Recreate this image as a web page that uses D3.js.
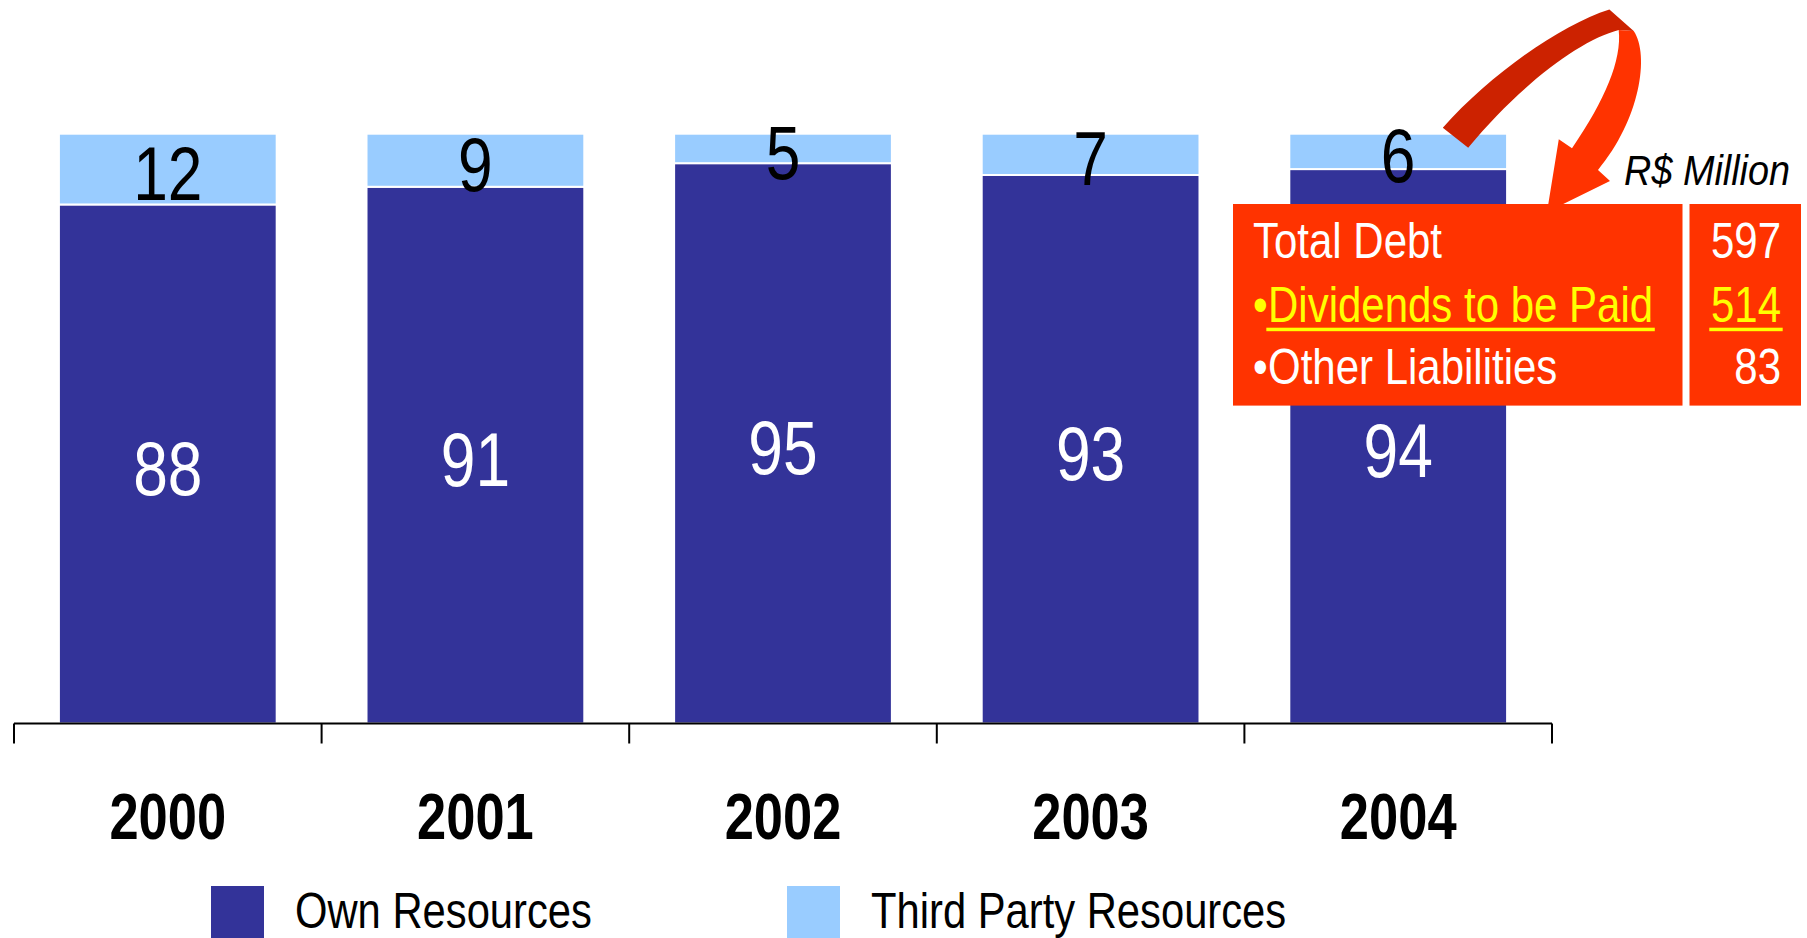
<!DOCTYPE html>
<html>
<head>
<meta charset="utf-8">
<script src="https://cdn.jsdelivr.net/npm/d3@7"></script>
<style>
  html, body { margin: 0; padding: 0; background: #fff; }
  svg { display: block; }
  text { font-family: "Liberation Sans", Arial, sans-serif; }
</style>
</head>
<body>
<div id="chart"></div>
<script>
const years = ["2000", "2001", "2002", "2003", "2004"];
const ownResources = [88, 91, 95, 93, 94];
const thirdParty = [12, 9, 5, 7, 6];
const seriesNames = ["Own Resources", "Third Party Resources"];
const debtLabels = ["Total Debt", "Dividends to be Paid", "Other Liabilities"];
const debtValues = [597, 514, 83];
const unitLabel = "R$ Million";

const width = 1807;
const height = 938;
const darkBlue = "#333399";
const lightBlue = "#99ccff";
const boxRed = "#ff3300";
const arrowDark = "#cc2200";
const narrow = 0.82; // squeeze Liberation Sans into a condensed face

const svg = d3.select("#chart")
    .append("svg")
    .attr("width", width)
    .attr("height", height);

const place = (px, py, sx = narrow) => `translate(${px},${py}) scale(${sx},1)`;

const rows = years.map((y, i) => ({ year: y, own: ownResources[i], third: thirdParty[i] }));
const stacked = d3.stack().keys(["own", "third"])(rows);

const x = d3.scaleBand()
    .domain(years)
    .range([14, 1552])
    .paddingInner(0.292)
    .paddingOuter(0.146);

const y = d3.scaleLinear()
    .domain([0, 100])
    .range([723.5, 133.7]);

const colors = { own: darkBlue, third: lightBlue };

// bars
svg.selectAll(".layer")
    .data(stacked)
    .enter()
    .append("g")
    .attr("fill", d => colors[d.key])
    .selectAll("rect")
    .data(d => d)
    .enter()
    .append("rect")
    .attr("x", d => x(d.data.year))
    .attr("y", d => y(d[1]))
    .attr("width", x.bandwidth())
    .attr("height", d => y(d[0]) - y(d[1]))
    .attr("stroke", "#fff")
    .attr("stroke-width", 2);

// value labels
const labelColor = ["#fff", "#000"];
stacked.forEach((layer, li) => {
    svg.selectAll(".val-" + li)
        .data(layer)
        .enter()
        .append("text")
        .attr("transform", d => place(x(d.data.year) + x.bandwidth() / 2, (y(d[0]) + y(d[1])) / 2 + 31))
        .attr("text-anchor", "middle")
        .attr("font-size", "76px")
        .attr("fill", labelColor[li])
        .text(d => d.data[layer.key]);
});

// axis: baseline with ticks between categories
const axisY = y(0);
const r = x.range();
svg.append("line")
    .attr("x1", r[0]).attr("x2", r[1])
    .attr("y1", axisY).attr("y2", axisY)
    .attr("stroke", "#000")
    .attr("stroke-width", 2);

svg.selectAll(".tick")
    .data(d3.range(years.length + 1))
    .enter()
    .append("line")
    .attr("x1", i => r[0] + i * x.step())
    .attr("x2", i => r[0] + i * x.step())
    .attr("y1", axisY)
    .attr("y2", axisY + 20)
    .attr("stroke", "#000")
    .attr("stroke-width", 2);

svg.selectAll(".year-label")
    .data(years)
    .enter()
    .append("text")
    .attr("transform", d => place(x(d) + x.bandwidth() / 2, 839))
    .attr("text-anchor", "middle")
    .attr("font-size", "64px")
    .attr("font-weight", "bold")
    .text(d => d);

// legend
const legendX = [211, 787];
const legend = svg.selectAll(".legend")
    .data(seriesNames)
    .enter()
    .append("g")
    .attr("transform", (d, i) => `translate(${legendX[i]},886)`);

legend.append("rect")
    .attr("width", 53)
    .attr("height", 52)
    .attr("fill", (d, i) => i === 0 ? darkBlue : lightBlue);

legend.append("text")
    .attr("transform", place(84, 42, 0.835))
    .attr("font-size", "50px")
    .text(d => d);

// curved arrow (back face, then front face)
svg.append("path")
    .attr("d", "M1442.8,127.7 C1490,75 1560,25 1609.4,9.4 L1633.7,31 L1618.7,30 C1580,40 1520,85 1468.2,147.7 Z")
    .attr("fill", arrowDark);

svg.append("path")
    .attr("d", "M1618.7,30 L1633.7,31 C1650,55 1640,120 1598,170 L1610,181 L1547,212 L1558.8,139.3 L1572,148.3 C1605,100 1622,60 1618.7,30 Z")
    .attr("fill", boxRed);

svg.append("text")
    .attr("transform", place(1790, 185, 0.9))
    .attr("text-anchor", "end")
    .attr("font-size", "42px")
    .attr("font-style", "italic")
    .text(unitLabel);

// debt box
svg.append("rect")
    .attr("x", 1233).attr("y", 204)
    .attr("width", 449.5).attr("height", 201.6)
    .attr("fill", boxRed);

svg.append("rect")
    .attr("x", 1689.5).attr("y", 204)
    .attr("width", 111.5).attr("height", 201.6)
    .attr("fill", boxRed);

const rowBase = [257.7, 321.7, 384.3];
const rowColor = ["#fff", "#ffff00", "#fff"];
const boxScale = 0.84;

debtLabels.forEach((label, i) => {
    const hasBullet = i > 0;
    if (hasBullet) {
        svg.append("text")
            .attr("transform", place(1253, rowBase[i], boxScale))
            .attr("font-size", "50px")
            .attr("fill", rowColor[i])
            .text("\u2022");
    }
    const tg = svg.append("g").attr("transform", place(hasBullet ? 1268 : 1253, rowBase[i], boxScale));
    const t = tg.append("text")
        .attr("font-size", "50px")
        .attr("fill", rowColor[i])
        .text(label);

    const vg = svg.append("g").attr("transform", place(1781, rowBase[i], boxScale));
    const v = vg.append("text")
        .attr("text-anchor", "end")
        .attr("font-size", "50px")
        .attr("fill", rowColor[i])
        .text(debtValues[i]);

    if (i === 1) {
        [[tg, t], [vg, v]].forEach(([g, el]) => {
            const b = el.node().getBBox();
            g.append("rect")
                .attr("x", b.x - 2)
                .attr("y", 6)
                .attr("width", b.width + 4)
                .attr("height", 3.5)
                .attr("fill", rowColor[i]);
        });
    }
});
</script>
</body>
</html>
